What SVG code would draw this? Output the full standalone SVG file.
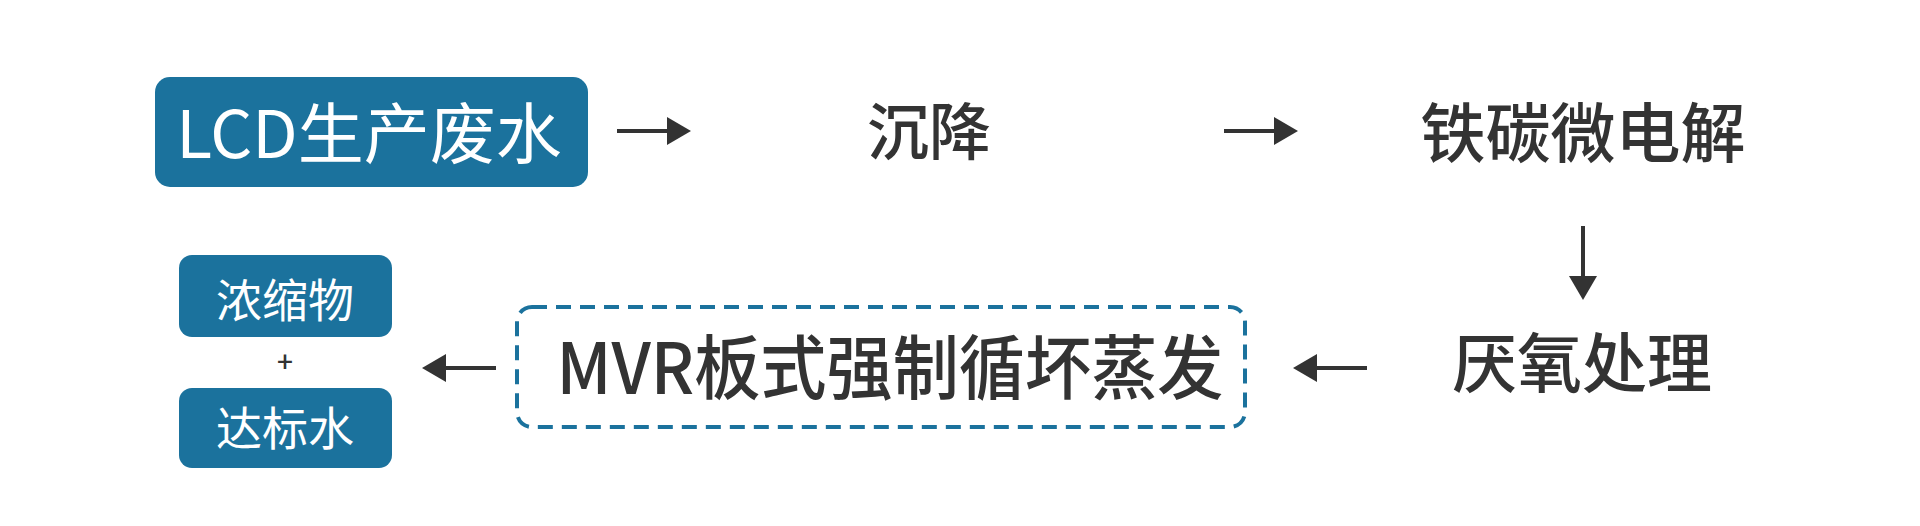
<svg xmlns="http://www.w3.org/2000/svg" width="1920" height="526" viewBox="0 0 1920 526">
<style>
.box{fill:#1b729d;}
.dash{fill:none;stroke:#1b729d;stroke-width:4;stroke-dasharray:15 9;}
.wt{fill:#ffffff;font-family:"Noto Sans CJK SC","Noto Sans",sans-serif;text-anchor:middle;}
.dt{fill:#333333;font-family:"Noto Sans CJK SC","Noto Sans",sans-serif;text-anchor:middle;font-weight:500;}
.ln{stroke:#333333;stroke-width:4;fill:none;}
</style>
<defs>
<marker id="ah" markerUnits="userSpaceOnUse" viewBox="0 0 24 28" markerWidth="24" markerHeight="28" refX="0" refY="14" orient="auto">
<path d="M0,0 L24,14 L0,28 Z" fill="#333333"/>
</marker>
</defs>
<rect width="1920" height="526" fill="#ffffff"/>
<g id="n-lcd">
<rect class="box" x="155" y="77" width="433" height="110" rx="15"/>
<text class="wt" x="369" y="158" font-size="66">LCD生产废水</text>
</g>
<g id="n-settle">
<text class="dt" x="929" y="155" font-size="62">沉降</text>
</g>
<g id="n-fec">
<text class="dt" x="1583" y="157" font-size="65">铁碳微电解</text>
</g>
<g id="n-anaerobic">
<text class="dt" x="1582" y="387" font-size="65">厌氧处理</text>
</g>
<g id="n-mvr">
<rect class="dash" x="517" y="307" width="728" height="120" rx="15"/>
<text class="dt" x="890" y="394" font-size="70" textLength="667" lengthAdjust="spacingAndGlyphs">MVR板式强制循坏蒸发</text>
</g>
<g id="n-conc">
<rect class="box" x="179" y="255" width="213" height="82" rx="13"/>
<text class="wt" x="285" y="317" font-size="46">浓缩物</text>
</g>
<g id="n-plus">
<text class="dt" x="285" y="372" font-size="28" font-weight="400" font-family="Noto Sans, sans-serif">+</text>
</g>
<g id="n-water">
<rect class="box" x="179" y="388" width="213" height="80" rx="13"/>
<text class="wt" x="285" y="445" font-size="46">达标水</text>
</g>
<g id="connectors">
<line class="ln" x1="617" y1="131" x2="667" y2="131" marker-end="url(#ah)"/>
<line class="ln" x1="1224" y1="131" x2="1274" y2="131" marker-end="url(#ah)"/>
<line class="ln" x1="1583" y1="226" x2="1583" y2="276" marker-end="url(#ah)"/>
<line class="ln" x1="1367" y1="368" x2="1317" y2="368" marker-end="url(#ah)"/>
<line class="ln" x1="496" y1="368" x2="446" y2="368" marker-end="url(#ah)"/>
</g>
</svg>
